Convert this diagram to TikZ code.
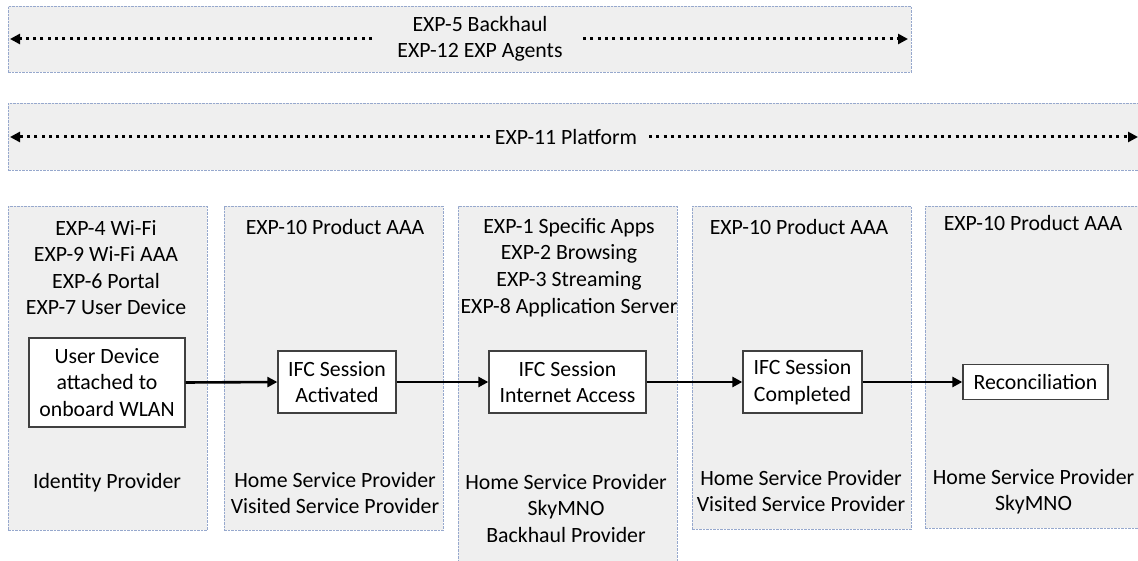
\documentclass[tikz,border=0pt]{standalone}
\usepackage{fontspec}
\setmainfont{Carlito}
\usetikzlibrary{arrows.meta}
\definecolor{panelfill}{RGB}{239,239,239}
\definecolor{paneledge}{RGB}{150,168,205}
\begin{document}
\begin{tikzpicture}[x=1bp,y=-1bp,
  panel/.style={draw=paneledge, fill=panelfill, line width=0.9bp,
    dash pattern=on 2.5bp off 1bp, rectangle, inner sep=0pt, anchor=north west},
  txt/.style={font=\fontsize{21.8bp}{26.6bp}\selectfont, text=black,
    align=center, inner sep=0pt},
  stepbox/.style={txt, draw=black!75, fill=white, line width=1.3bp,
    minimum height=62bp, rectangle},
  flow/.style={line width=2.6bp, -{Triangle[length=10bp,width=10bp]}},
  span/.style={line width=3bp, dash pattern=on 3bp off 4.3bp,
    -{Triangle[length=10bp,width=10bp]}}
]
\useasboundingbox (0,0) rectangle (1138,561);
\fill[white] (0,0) rectangle (1138,561);

% ---- layer bands ----
\node[panel, minimum width=903bp, minimum height=66bp] (agents) at (8,6) {};
\node[panel, minimum width=1134bp, minimum height=67bp] (platform) at (8,103) {};

\node[txt] (agentstxt) at (480,39) {EXP-5 Backhaul\\EXP-12 EXP Agents};
\coordinate (agL1) at (372,39);
\coordinate (agL2) at (10,39);
\coordinate (agR1) at (583,39);
\coordinate (agR2) at (908,39);
\draw[span] (agL1) -- (agL2);
\draw[span] (agR1) -- (agR2);

\node[txt] (platformtxt) at (566,137) {EXP-11 Platform};
\coordinate (plL1) at (490,137);
\coordinate (plL2) at (10,137);
\coordinate (plR1) at (649,137);
\coordinate (plR2) at (1138,137);
\draw[span] (plL1) -- (plL2);
\draw[span] (plR1) -- (plR2);

% ---- stage columns ----
\node[panel, minimum width=199bp, minimum height=324bp] (col1) at (8,206) {};
\node[panel, minimum width=219bp, minimum height=324bp] (col2) at (224,206) {};
\node[panel, minimum width=219bp, minimum height=360bp] (col3) at (458,206) {};
\node[panel, minimum width=219bp, minimum height=323bp] (col4) at (692,206) {};
\node[panel, minimum width=218bp, minimum height=322bp] (col5) at (925,206) {};

% column headings
\node[txt] (h1) at (106,267.5) {EXP-4 Wi-Fi\\EXP-9 Wi-Fi AAA\\EXP-6 Portal\\EXP-7 User Device};
\node[txt] (h2) at (335,227) {EXP-10 Product AAA};
\node[txt] (h3) at (569,267.5) {EXP-1 Specific Apps\\EXP-2 Browsing\\EXP-3 Streaming\\EXP-8 Application Server};
\node[txt] (h4) at (799,227) {EXP-10 Product AAA};
\node[txt] (h5) at (1033,223) {EXP-10 Product AAA};

% column roles
\node[txt] (r1) at (107,483) {Identity Provider};
\node[txt] (r2) at (335,493) {Home Service Provider\\Visited Service Provider};
\node[txt] (r3) at (566,508.5) {Home Service Provider\\SkyMNO\\Backhaul Provider};
\node[txt] (r4) at (801,491) {Home Service Provider\\Visited Service Provider};
\node[txt] (r5) at (1033.5,491.5) {Home Service Provider\\SkyMNO};

% ---- session flow ----
\node[stepbox, minimum width=156bp, minimum height=89bp] (ud) at (107,382.5)
  {User Device\\attached to\\onboard WLAN};
\node[stepbox, minimum width=118bp] (act) at (337,382) {IFC Session\\Activated};
\node[stepbox, minimum width=157bp] (inet) at (567.5,382) {IFC Session\\Internet Access};
\node[stepbox, minimum width=119bp] (comp) at (802.5,382) {IFC Session\\Completed};
\node[stepbox, minimum width=145bp, minimum height=35bp] (rec) at (1035.5,382) {Reconciliation};

\draw[flow] (ud.east) -- (act.west);
\draw[flow] (act.east) -- (inet.west);
\draw[flow] (inet.east) -- (comp.west);
\draw[flow] (comp.east) -- (rec.west);
\end{tikzpicture}
\end{document}
